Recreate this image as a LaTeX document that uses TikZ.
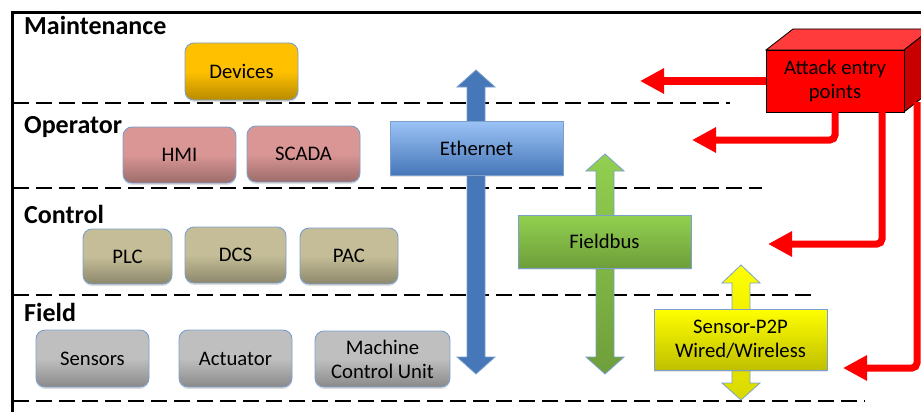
\documentclass[tikz,border=0pt]{standalone}
\usepackage{fontspec}
\setmainfont{Carlito}
\usetikzlibrary{arrows.meta,shadows}
\definecolor{tileedge}{HTML}{7BA0CD}
\definecolor{devcol}{HTML}{FFC000}
\definecolor{opcol}{HTML}{D99694}
\definecolor{ctlcol}{HTML}{C4BD97}
\definecolor{fldcol}{HTML}{BFBFBF}
\definecolor{ethdark}{HTML}{4677B8}
\definecolor{ethlight}{HTML}{9CC3F6}
\definecolor{greencol}{HTML}{92D050}
\definecolor{greendark}{HTML}{6E9E3A}
\definecolor{yelcol}{HTML}{FFFF00}
\definecolor{redtop}{HTML}{FF3B3B}
\definecolor{redside}{HTML}{C80000}
\newcommand\tilefont{\fontsize{20.7}{24}\selectfont}
\newcommand\layerfont{\fontsize{26}{30}\selectfont\bfseries}
\begin{document}
\begin{tikzpicture}[x=1pt,y=-1pt,
  tile/.style={draw=tileedge, line width=0.9pt, rounded corners=9pt, inner sep=0pt,
    align=center, font=\tilefont, text=black,
    drop shadow={opacity=0.25, shadow xshift=0pt, shadow yshift=-2pt}},
  tilecol/.style={top color=#1, bottom color=#1!72!black, middle color=#1},
  bus/.style={draw=tileedge, line width=0.8pt, inner sep=0pt, align=center, font=\tilefont,
    drop shadow={opacity=0.2, shadow xshift=0pt, shadow yshift=-2pt}},
  layer/.style={anchor=base west, font=\layerfont, inner sep=0pt},
  sep/.style={dash pattern=on 16pt off 7pt, line width=2.4pt},
  attackline/.style={red, line width=7pt, rounded corners=5pt, -{Triangle[width=24pt,length=24pt]}},
  busarrow/.style={draw=tileedge, line width=0.8pt}
]
\useasboundingbox (0,0) rectangle (921,412);
\begin{scope}
\clip (0,0) rectangle (921,412);
% frame
\draw[line width=3pt] (12,412) -- (12,13) -- (925,13);
% separators
\draw[sep] (13,103) -- (730,103);
\draw[sep] (13,188) -- (762,188);
\draw[sep] (13,295) -- (818,295);
\draw[sep] (13,401) -- (865,401);
% layer labels
\node[layer] (lmaint) at (24,35) {Maintenance};
\node[layer] (lop) at (24,133) {Operator};
\node[layer] (lctl) at (24,223) {Control};
\node[layer] (lfld) at (24,321) {Field};
% bus arrows
\shade[busarrow, top color=ethdark, middle color=ethlight, bottom color=ethdark]
  (476,70) -- (495,87) -- (485,87) -- (485,357) -- (495,357) -- (476,374)
  -- (457,357) -- (467,357) -- (467,87) -- (457,87) -- cycle;
\shade[busarrow, top color=greencol, middle color=greencol, bottom color=greendark]
  (605,154) -- (624,171) -- (614,171) -- (614,357) -- (624,357) -- (605,374)
  -- (586,357) -- (596,357) -- (596,171) -- (586,171) -- cycle;
\shade[busarrow, top color=yelcol, middle color=yelcol, bottom color=yelcol!85!black]
  (741,265) -- (760,283) -- (750,283) -- (750,383) -- (760,383) -- (741,400)
  -- (722,383) -- (732,383) -- (732,283) -- (722,283) -- cycle;
% tiles
\node[tile, tilecol=devcol, minimum width=113pt, minimum height=57pt] (dev) at (241.5,71.5) {Devices};
\node[tile, tilecol=opcol, minimum width=113pt, minimum height=56pt] (hmi) at (179.5,155) {HMI};
\node[tile, tilecol=opcol, minimum width=113pt, minimum height=56pt] (scada) at (303.5,154) {SCADA};
\node[tile, tilecol=ctlcol, minimum width=89pt, minimum height=55pt] (plc) at (127.5,256.5) {PLC};
\node[tile, tilecol=ctlcol, minimum width=101pt, minimum height=56pt] (dcs) at (235.5,255) {DCS};
\node[tile, tilecol=ctlcol, minimum width=98pt, minimum height=56pt] (pac) at (349,256) {PAC};
\node[tile, tilecol=fldcol, minimum width=113pt, minimum height=57pt] (sens) at (92.5,358.5) {Sensors};
\node[tile, tilecol=fldcol, minimum width=113pt, minimum height=57pt] (act) at (235.5,358.5) {Actuator};
\node[tile, tilecol=fldcol, minimum width=135pt, minimum height=56pt] (mcu) at (382.5,359) {Machine\\Control Unit};
% bus boxes
\node[bus, top color=ethlight, bottom color=ethdark, minimum width=173pt, minimum height=54pt] (eth) at (476.5,148) {Ethernet};
\node[bus, top color=greencol, middle color=greencol, bottom color=greendark, minimum width=173pt, minimum height=53pt] (fbus) at (604.5,241.5) {Fieldbus};
\node[bus, top color=yelcol, middle color=yelcol, bottom color=yelcol!75!black, minimum width=173pt, minimum height=61pt] (p2p) at (740.5,339.5) {Sensor-P2P\\Wired/Wireless};
% attack box (3D)
\fill[redtop, draw=black, line width=0.8pt] (766,50) -- (793,29) -- (931,29) -- (904,50) -- cycle;
\fill[redside, draw=black, line width=0.8pt] (904,50) -- (931,29) -- (931,91) -- (904,112) -- cycle;
\node[fill=red, draw=black, line width=0.8pt, minimum width=138pt, minimum height=62pt, inner sep=0pt,
  align=center, font=\tilefont] (attack) at (835,81) {Attack entry\\points};
% attack arrows
\coordinate (t1) at (640,81);
\coordinate (s2) at (835,112);
\coordinate (t2) at (692,140);
\coordinate (s3) at (882,112);
\coordinate (t3) at (768,244);
\coordinate (s4) at (917,102);
\coordinate (t4) at (843,368);
\draw[attackline] (attack.west) -- (t1);
\draw[attackline] (s2) |- (t2);
\draw[attackline] (s3) |- (t3);
\draw[attackline] (s4) |- (t4);
\end{scope}
\end{tikzpicture}
\end{document}
